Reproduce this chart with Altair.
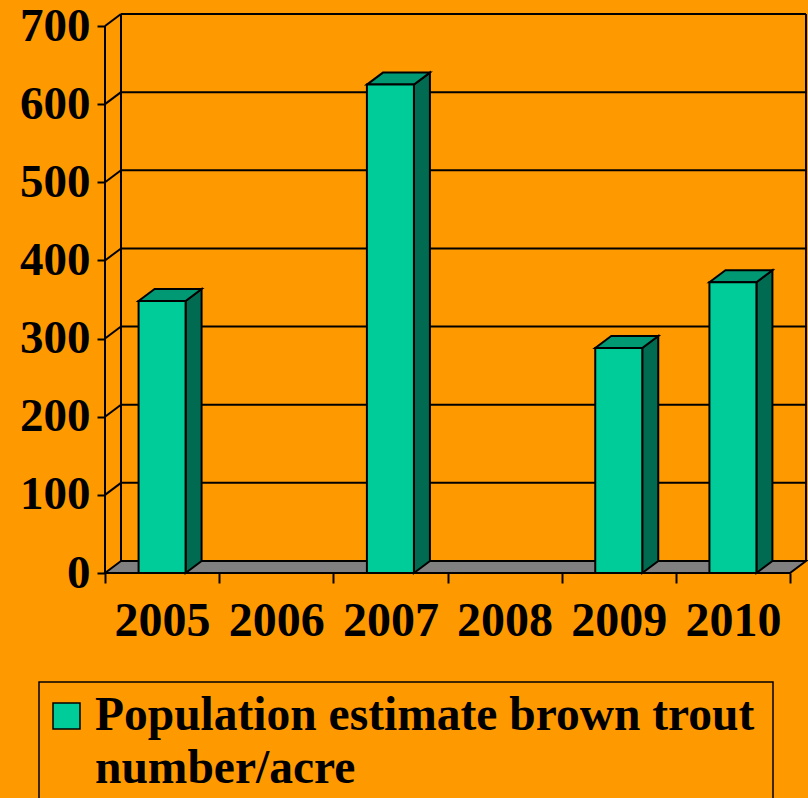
import json
import altair as alt
import pandas as pd

# ---------------- data ----------------
YEARS = ["2005", "2006", "2007", "2008", "2009", "2010"]
VALUES = [348, None, 625, None, 288, 372]
SERIES = "Population estimate brown trout number/acre"
SERIES_LINES = ["Population estimate brown trout", "number/acre"]
Y_TICKS = [0, 100, 200, 300, 400, 500, 600, 700]

# ---------------- style / geometry ----------------
BG = "#FF9900"
FRONT = "#00CC99"
TOP = "#009973"
SIDE = "#006B50"
FLOOR = "#808080"
FONT = "Liberation Serif"

N = len(YEARS)
FRONT_W_PX = 685          # width of the front floor edge
FRONT_H_PX = 547          # height from 0 to 700 on the front axis
PX_PER_CAT = FRONT_W_PX / N
PX_PER_UNIT = FRONT_H_PX / 700
DX_PX, DY_PX = 16, 12     # 3-D depth offset
DXU = DX_PX / PX_PER_CAT
DYU = DY_PX / PX_PER_UNIT
BAR_W = 47 / PX_PER_CAT
W = FRONT_W_PX + DX_PX
H = FRONT_H_PX + DY_PX

xs = alt.Scale(domain=[0, N + DXU], nice=False, zero=False, padding=0)
ys = alt.Scale(domain=[0, 700 + DYU], nice=False, zero=False, padding=0)

label_expr = f"datum.value < {N} ? {json.dumps(YEARS)}[datum.value] : ''"
X_AX = alt.Axis(
    values=list(range(N + 1)), labelExpr=label_expr, labelOffset=PX_PER_CAT / 2,
    tickSize=10, tickWidth=2, tickColor="black", domain=False, grid=False,
    labelFont=FONT, labelFontWeight="bold", labelFontSize=48, labelColor="black",
    labelPadding=14, labelBaseline="top", labelFlush=False, labelOverlap=False,
    labelBound=False, title=None,
)
Y_AX = alt.Axis(
    values=Y_TICKS, tickSize=8, tickWidth=2, tickColor="black", domain=False,
    grid=False, labelFont=FONT, labelFontWeight="bold", labelFontSize=47,
    labelColor="black", labelPadding=7, labelFlush=False, labelOverlap=False,
    labelBound=False, title=None,
)


def X(field):
    return alt.X(field, scale=xs, axis=X_AX, title=None)


def Y(field):
    return alt.Y(field, scale=ys, axis=Y_AX, title=None)


# ---------------- tables ----------------
front_rows, side_rows, top_rows = [], [], []
for i, (yr, v) in enumerate(zip(YEARS, VALUES)):
    if v is None:
        continue
    xl = i + 0.5 - BAR_W / 2
    xr = xl + BAR_W
    front_rows.append({"year": yr, "xl": xl, "xr": xr, "y0": 0, "v": v})
    side_rows += [
        {"year": yr, "x": xr, "lo": 0, "hi": v},
        {"year": yr, "x": xr + DXU, "lo": DYU, "hi": v + DYU},
    ]
    top_rows += [
        {"year": yr, "y": v, "xa": xl, "xb": xr},
        {"year": yr, "y": v + DYU, "xa": xl + DXU, "xb": xr + DXU},
    ]
front_df = pd.DataFrame(front_rows)
side_df = pd.DataFrame(side_rows)
top_df = pd.DataFrame(top_rows)

grid_df = pd.DataFrame({"v": Y_TICKS[1:]})
grid_df["vb"] = grid_df["v"] + DYU
grid_df["x0"] = 0.0
grid_df["xb0"] = DXU
grid_df["xb1"] = N + DXU

wall_df = pd.DataFrame({"x": [DXU, N + DXU], "y0": [DYU, DYU], "y1": [700 + DYU, 700 + DYU]})
floor_df = pd.DataFrame({"y": [0, DYU], "xa": [0, DXU], "xb": [N, N + DXU]})
axis_df = pd.DataFrame({"x": [0.0], "y0": [0], "y1": [700]})
legend_df = pd.DataFrame({"series": [SERIES], "label": ["\n".join(SERIES_LINES)]})

# ---------------- layers ----------------
grid_back = alt.Chart(grid_df).mark_rule(color="black", strokeWidth=2).encode(
    x=X("xb0:Q"), x2="xb1:Q", y=Y("vb:Q"),
)
grid_diag = alt.Chart(grid_df).mark_rule(color="black", strokeWidth=2).encode(
    x=X("x0:Q"), x2="xb0:Q", y=Y("v:Q"), y2="vb:Q",
)
walls = alt.Chart(wall_df).mark_rule(color="black", strokeWidth=2).encode(
    x=X("x:Q"), y=Y("y0:Q"), y2="y1:Q",
)
floor = alt.Chart(floor_df).mark_area(
    orient="horizontal", fill=FLOOR, stroke="black", strokeWidth=2, interpolate="linear"
).encode(
    y=Y("y:Q"), x=X("xa:Q"), x2="xb:Q",
)
side = alt.Chart(side_df).mark_area(
    orient="vertical", fill=SIDE, stroke="black", strokeWidth=2, interpolate="linear"
).encode(
    x=X("x:Q"), y=Y("hi:Q"), y2="lo:Q", detail="year:N",
)
top = alt.Chart(top_df).mark_area(
    orient="horizontal", fill=TOP, stroke="black", strokeWidth=2, interpolate="linear"
).encode(
    y=Y("y:Q"), x=X("xa:Q"), x2="xb:Q", detail="year:N",
)
front = alt.Chart(front_df).mark_rect(fill=FRONT, stroke="black", strokeWidth=2).encode(
    x=X("xl:Q"), x2="xr:Q", y=Y("y0:Q"), y2="v:Q",
)
front_axis = alt.Chart(axis_df).mark_rule(color="black", strokeWidth=2).encode(
    x=X("x:Q"), y=Y("y0:Q"), y2="y1:Q",
)

# legend (drawn as marks, positioned in pixels relative to the plot origin)
legend_box = alt.Chart(legend_df).mark_rect(
    fillOpacity=0, stroke="black", strokeWidth=1.5
).encode(
    x=alt.value(-66), x2=alt.value(668), y=alt.value(668), y2=alt.value(800)
)
legend_sym = alt.Chart(legend_df).mark_rect(
    fill=FRONT, stroke="black", strokeWidth=1.5
).encode(
    x=alt.value(-52), x2=alt.value(-25), y=alt.value(689), y2=alt.value(715)
)
legend_txt = alt.Chart(legend_df).mark_text(
    align="left", baseline="alphabetic", font=FONT, fontWeight="bold",
    fontSize=47.5, lineHeight=53, lineBreak="\n", color="black"
).encode(
    x=alt.value(-10), y=alt.value(716), text="label:N"
)

chart = alt.layer(
    grid_back, grid_diag, walls, floor, side, top, front, front_axis,
    legend_box, legend_sym, legend_txt,
).properties(
    width=W, height=H, background=BG,
    padding={"left": 105, "top": 14, "right": 2, "bottom": 225},
    autosize=alt.AutoSizeParams(type="none"),
).configure_view(stroke=None)

chart.save("out.html", embed_options={"renderer": "svg", "actions": False})
